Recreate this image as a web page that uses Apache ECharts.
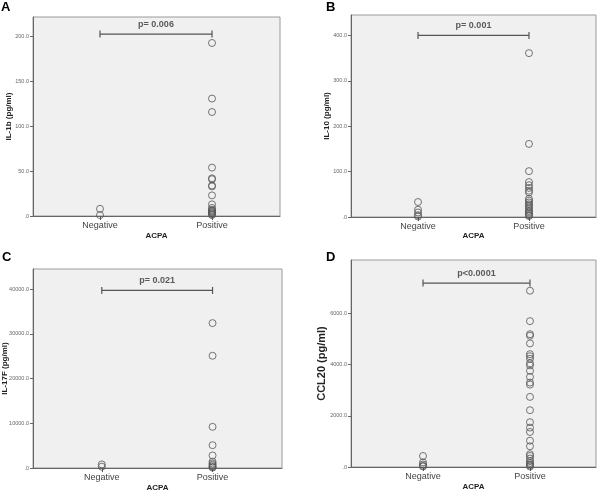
<!DOCTYPE html>
<html>
<head>
<meta charset="utf-8">
<script src="https://cdn.jsdelivr.net/npm/echarts@6/dist/echarts.min.js"></script>
<style>html,body{margin:0;padding:0;background:#fff}#c{width:600px;height:492px}</style>
</head>
<body>
<div id="c"></div>
<script>
// ---- data ----
const categories = ['Negative', 'Positive'];
const xAxisTitle = 'ACPA';
const panelLetters = ['A', 'B', 'C', 'D'];
const yTitles = ['IL-1b (pg/ml)', 'IL-10 (pg/ml)', 'IL-17F (pg/ml)', 'CCL20 (pg/ml)'];
const pLabels = ['p= 0.006', 'p= 0.001', 'p= 0.021', 'p<0.0001'];
const bracketLevels = [203, 400, 39700, 7190];

const il1bNeg = [8, 1];
const il1bPos = [193, 131, 116, 54, 42, 41, 34, 33, 23, 13, 9, 7, 6, 5, 4, 3, 2, 1];
const il10Neg = [33, 16, 10, 4, 1];
const il10Pos = [361, 161, 101, 77, 70, 64, 58, 54, 40, 36, 32, 28, 25, 21, 17, 13, 10, 7, 4, 2];
const il17fNeg = [800, 300];
const il17fPos = [32400, 25100, 9200, 5100, 2800, 1400, 1000, 700, 400, 200, 100];
const ccl20Neg = [430, 180, 100, 50, 20];
const ccl20Pos = [6890, 5700, 5190, 5130, 4830, 4410, 4330, 4230, 4050, 3970, 3760, 3520, 3300, 3220,
                  2740, 2220, 1750, 1540, 1370, 1030, 810, 500, 430, 330, 230, 160, 110, 60, 20];

const yTicksA = [0, 50, 100, 150, 200];
const yTicksB = [0, 100, 200, 300, 400];
const yTicksC = [0, 10000, 20000, 30000, 40000];
const yTicksD = [0, 2000, 4000, 6000];

// ---- layout ----
const panels = [
  {neg: il1bNeg, pos: il1bPos, ticks: yTicksA, max: 222, grid: {left: 33, top: 17, width: 247, height: 199}, xr: [0.402, 2.607], nameGap: 20, nameSize: 8, xNameGap: 16, letter: {x: 1, y: 1}},
  {neg: il10Neg, pos: il10Pos, ticks: yTicksB, max: 445, grid: {left: 351, top: 15, width: 245, height: 202}, xr: [0.396, 2.604], nameGap: 20, nameSize: 8, xNameGap: 15, letter: {x: 326, y: 1}},
  {neg: il17fNeg, pos: il17fPos, ticks: yTicksC, max: 44500, grid: {left: 33, top: 269, width: 249, height: 199}, xr: [0.379, 2.627], nameGap: 24, nameSize: 8, xNameGap: 16, letter: {x: 2, y: 251}},
  {neg: ccl20Neg, pos: ccl20Pos, ticks: yTicksD, max: 8090, grid: {left: 351, top: 260, width: 245, height: 207}, xr: [0.327, 2.617], nameGap: 24, nameSize: 11, xNameGap: 16, letter: {x: 326, y: 251}}
];

const FONT = 'Liberation Sans, Arial, sans-serif';
const grids = [], xAxes = [], yAxes = [], series = [], graphics = [];

function fmt(v) { return v === 0 ? '.0' : v.toFixed(1); }

panels.forEach((p, i) => {
  grids.push(Object.assign({show: true, containLabel: false, outerBoundsMode: 'none', backgroundColor: '#f0f0f0', borderColor: '#9a9a9a', borderWidth: 1}, p.grid));
  xAxes.push({
    type: 'value', gridIndex: i, min: p.xr[0], max: p.xr[1],
    name: xAxisTitle, nameLocation: 'middle', nameGap: p.xNameGap, nameMoveOverlap: false,
    nameTextStyle: {fontFamily: FONT, fontSize: 8, fontWeight: 'bold', color: '#222'},
    axisLine: {show: true, onZero: false, lineStyle: {color: '#666', width: 1}},
    axisTick: {show: true, customValues: [1, 2], length: 4, lineStyle: {color: '#555'}},
    axisLabel: {customValues: [1, 2], formatter: v => categories[Math.round(v) - 1], margin: 5, fontFamily: FONT, fontSize: 9, color: '#444'},
    splitLine: {show: false}
  });
  yAxes.push({
    type: 'value', gridIndex: i, min: 0, max: p.max,
    name: yTitles[i], nameLocation: 'middle', nameGap: p.nameGap, nameMoveOverlap: false,
    nameTextStyle: {fontFamily: FONT, fontSize: p.nameSize, fontWeight: 'bold', color: '#222'},
    axisLine: {show: true, lineStyle: {color: '#666', width: 1}},
    axisTick: {show: true, customValues: p.ticks, length: 3, lineStyle: {color: '#666'}},
    axisLabel: {customValues: p.ticks, formatter: fmt, margin: 4, fontFamily: FONT, fontSize: 5.5, color: '#666'},
    splitLine: {show: false}
  });
  const pts = p.neg.map(v => [1, v]).concat(p.pos.map(v => [2, v]));
  series.push({
    type: 'scatter', xAxisIndex: i, yAxisIndex: i, data: pts, symbol: 'circle', symbolSize: 7,
    itemStyle: {color: 'rgba(0,0,0,0)', borderColor: '#555', borderWidth: 1}, silent: true
  });
  const b = bracketLevels[i];
  series.push({
    type: 'line', xAxisIndex: i, yAxisIndex: i, data: [[1, b], [2, b]],
    symbol: 'rect', symbolSize: [1.2, 7], itemStyle: {color: '#555'},
    lineStyle: {color: '#555', width: 1.2}, silent: true, animation: false
  });
  series.push({
    type: 'scatter', xAxisIndex: i, yAxisIndex: i, data: [[1.5, b]], symbolSize: 0,
    label: {show: true, position: 'top', distance: 5, formatter: pLabels[i], fontFamily: FONT, fontSize: 9, fontWeight: 'bold', color: '#333'},
    silent: true
  });
  graphics.push({type: 'text', left: p.letter.x, top: p.letter.y, style: {text: panelLetters[i], font: 'bold 13px ' + FONT, fill: '#000'}});
});

const chart = echarts.init(document.getElementById('c'), null, {renderer: 'canvas'});
chart.setOption({
  backgroundColor: '#fff',
  animation: false,
  grid: grids, xAxis: xAxes, yAxis: yAxes, series: series, graphic: graphics
});
</script>
</body>
</html>
